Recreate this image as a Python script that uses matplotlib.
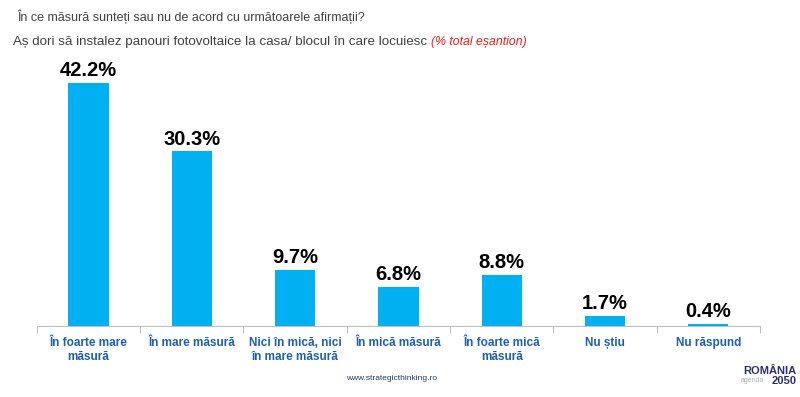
import matplotlib
matplotlib.use('Agg')
import matplotlib.pyplot as plt
import numpy as np

categories = ["În foarte mare\nmăsură", "În mare măsură", "Nici în mică, nici\nîn mare măsură",
              "În mică măsură", "În foarte mică\nmăsură", "Nu știu", "Nu răspund"]
values = [42.2, 30.3, 9.7, 6.8, 8.8, 1.7, 0.4]

title_1 = "În ce măsură sunteți sau nu de acord cu următoarele afirmații?"
title_2 = "Aș dori să instalez panouri fotovoltaice la casa/ blocul în care locuiesc "
title_2_red = "(% total eșantion)"

plt.rcParams['font.family'] = ['Liberation Sans', 'DejaVu Sans']

fig = plt.figure(figsize=(8, 3.97), dpi=100)
ax = fig.add_axes([0.046, 0.179, 0.904, 0.67])

x = np.arange(len(categories))
ax.bar(x, values, width=0.39, color='#00b0f0')
for xi, v in zip(x, values):
    ax.text(xi, v + 0.5, f"{v}%", ha='center', va='bottom', fontsize=14.5, fontweight='bold', color='black')

ax.set_xlim(-0.5, len(categories) - 0.5)
ax.set_ylim(0, 46.2)
ax.set_yticks([])
for s in ['top', 'right', 'left']:
    ax.spines[s].set_visible(False)
ax.spines['bottom'].set_color('#bfbfbf')
ax.set_xticks(np.arange(-0.5, len(categories)))
ax.set_xticklabels([])
ax.tick_params(axis='x', length=5, color='#bfbfbf', direction='out')
for xi, c in zip(x, categories):
    ax.text(xi, -2.0, c, ha='center', va='top', fontsize=8.5, fontweight='bold', color='#2060a8')

fig.text(17 / 800, 1 - 17 / 397, title_1, fontsize=9, color='#404040', va='center', ha='left')
t = fig.text(13 / 800, 1 - 42 / 397, title_2, fontsize=9.6, color='#404040', va='center', ha='left')
fig.canvas.draw()
bb = t.get_window_extent()
fig.text(bb.x1 / 800, 1 - 42 / 397, title_2_red, fontsize=8.8, color='#e02020', style='italic',
         va='center', ha='left')

fig.text(0.49, 1 - 378 / 397, "www.strategicthinking.ro", fontsize=6, color='#1f3864', ha='center', va='center')
fig.text(0.996, 1 - 371 / 397, "ROMÂNIA", fontsize=8, fontweight='bold', color='#2b2f6e', ha='right', va='center')
fig.text(0.996, 1 - 381 / 397, "2050", fontsize=8, fontweight='bold', color='#2b2f6e', ha='right', va='center')
fig.text(0.955, 1 - 381 / 397, "agenda", fontsize=5, color='#b0b0b0', ha='right', va='center')

fig.savefig('out.png', dpi=100, facecolor='white')
